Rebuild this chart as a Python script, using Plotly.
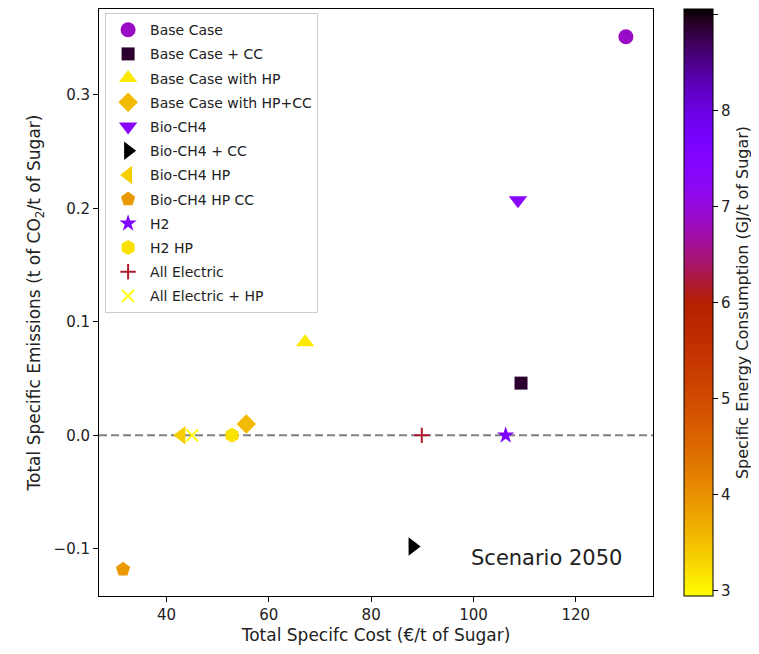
import math
import plotly.graph_objects as go
from plotly.colors import sample_colorscale

# ---------------- data ----------------
names = ["Base Case", "Base Case + CC", "Base Case with HP", "Base Case with HP+CC",
         "Bio-CH4", "Bio-CH4 + CC", "Bio-CH4 HP", "Bio-CH4 HP CC",
         "H2", "H2 HP", "All Electric", "All Electric + HP"]
cost = [129.8, 109.3, 67.1, 55.6, 108.7, 88.1, 42.9, 31.5, 106.3, 52.8, 89.9, 45.0]
emissions = [0.351, 0.046, 0.082, 0.010, 0.207, -0.098, 0.0, -0.118, 0.0, 0.0, 0.0, 0.0]
energy = [6.86, 8.88, 3.12, 3.55, 7.35, 9.06, 3.37, 3.90, 7.59, 3.19, 6.18, 2.94]
symbols = ["circle", "square", "triangle-up", "diamond", "triangle-down", "triangle-right",
           "triangle-left", "pentagon", "star", "hexagon", "cross-thin", "x-thin"]
x_ticks = [40, 60, 80, 100, 120]
y_ticks = [-0.1, 0.0, 0.1, 0.2, 0.3]
y_ticklabels = ["\u22120.1", "0.0", "0.1", "0.2", "0.3"]
cbar_ticks = [3, 4, 5, 6, 7, 8, 9]

# gnuplot_r colormap (matplotlib definition), as a plotly colorscale
def gnuplot(x):
    r = math.sqrt(x)
    g = x ** 3
    b = min(max(math.sin(2 * math.pi * x), 0.0), 1.0)
    return "rgb(%d,%d,%d)" % (round(r * 255), round(g * 255), round(b * 255))

N = 64
colorscale = [[i / N, gnuplot(1 - i / N)] for i in range(N + 1)]
cmin, cmax = min(energy), max(energy)

FONT = "DejaVu Sans"
fig = go.Figure()

sizes = {"circle": 15, "square": 13, "diamond": 15, "pentagon": 15, "star": 13,
         "hexagon": 15, "cross-thin": 11, "x-thin": 12}

for n, cx, ey, en, sym in zip(names, cost, emissions, energy, symbols):
    col = sample_colorscale(colorscale, [(en - cmin) / (cmax - cmin)])[0]
    thin = sym.endswith("-thin")
    size = sizes.get(sym, 16)
    fig.add_trace(go.Scatter(
        x=[cx], y=[ey], mode="markers", name=n, legendgroup=n,
        marker=dict(symbol=sym, size=size, color=col,
                    line=dict(color=col, width=2 if thin else 0)),
    ))

# colorbar carrier
fig.add_trace(go.Scatter(
    x=[None], y=[None], mode="markers", showlegend=False, hoverinfo="skip",
    marker=dict(color=[cmin, cmax], colorscale=colorscale, cmin=cmin, cmax=cmax,
                showscale=True,
                colorbar=dict(x=1.056, xanchor="left", xpad=0, y=0.5, yanchor="middle",
                              ypad=0, len=1.0, lenmode="fraction", thickness=29,
                              outlinewidth=1, outlinecolor="black",
                              ticks="outside", ticklen=5, tickcolor="black",
                              tickvals=cbar_ticks,
                              tickfont=dict(family=FONT, size=15, color="#222222"),
                              title=dict(text="Specific Energy Consumption (GJ/t of Sugar)",
                                         side="right",
                                         font=dict(family=FONT, size=16, color="#222222")))),
))

fig.add_hline(y=0, line=dict(color="gray", width=2, dash="8px,4px"), layer="below")

fig.add_annotation(x=99.1, y=-0.108, xref="x", yref="y", text="Scenario 2050",
                   showarrow=False, xanchor="left", yanchor="middle",
                   font=dict(family=FONT, size=21, color="#222222"))

fig.update_layout(
    width=751, height=646,
    margin=dict(l=91, r=106, t=1, b=58),
    plot_bgcolor="white", paper_bgcolor="white",
    font=dict(family=FONT, color="black"),
    legend=dict(x=0.011, y=0.993, xanchor="left", yanchor="top",
                bgcolor="rgba(255,255,255,0.8)", bordercolor="#cccccc", borderwidth=1,
                font=dict(family=FONT, size=14, color="#222222"),
                tracegroupgap=3, itemwidth=34),
    xaxis=dict(range=[26.8, 135.1], tickvals=x_ticks, showgrid=False, zeroline=False,
               showline=True, linecolor="black", linewidth=1, mirror=True,
               ticks="outside", ticklen=5, tickcolor="black",
               tickfont=dict(family=FONT, size=15, color="#222222"),
               title=dict(text="Total Specifc Cost (\u20ac/t of Sugar)",
                          font=dict(family=FONT, size=17, color="#222222"), standoff=6)),
    yaxis=dict(range=[-0.1415, 0.3755], tickvals=y_ticks, ticktext=y_ticklabels,
               showgrid=False, zeroline=False,
               showline=True, linecolor="black", linewidth=1, mirror=True,
               ticks="outside", ticklen=5, tickcolor="black",
               tickfont=dict(family=FONT, size=15, color="#222222"),
               title=dict(text="Total Specific Emissions (t of CO<sub>2</sub>/t of Sugar)",
                          font=dict(family=FONT, size=17, color="#222222"), standoff=8)),
)

fig.write_html("out.html")
